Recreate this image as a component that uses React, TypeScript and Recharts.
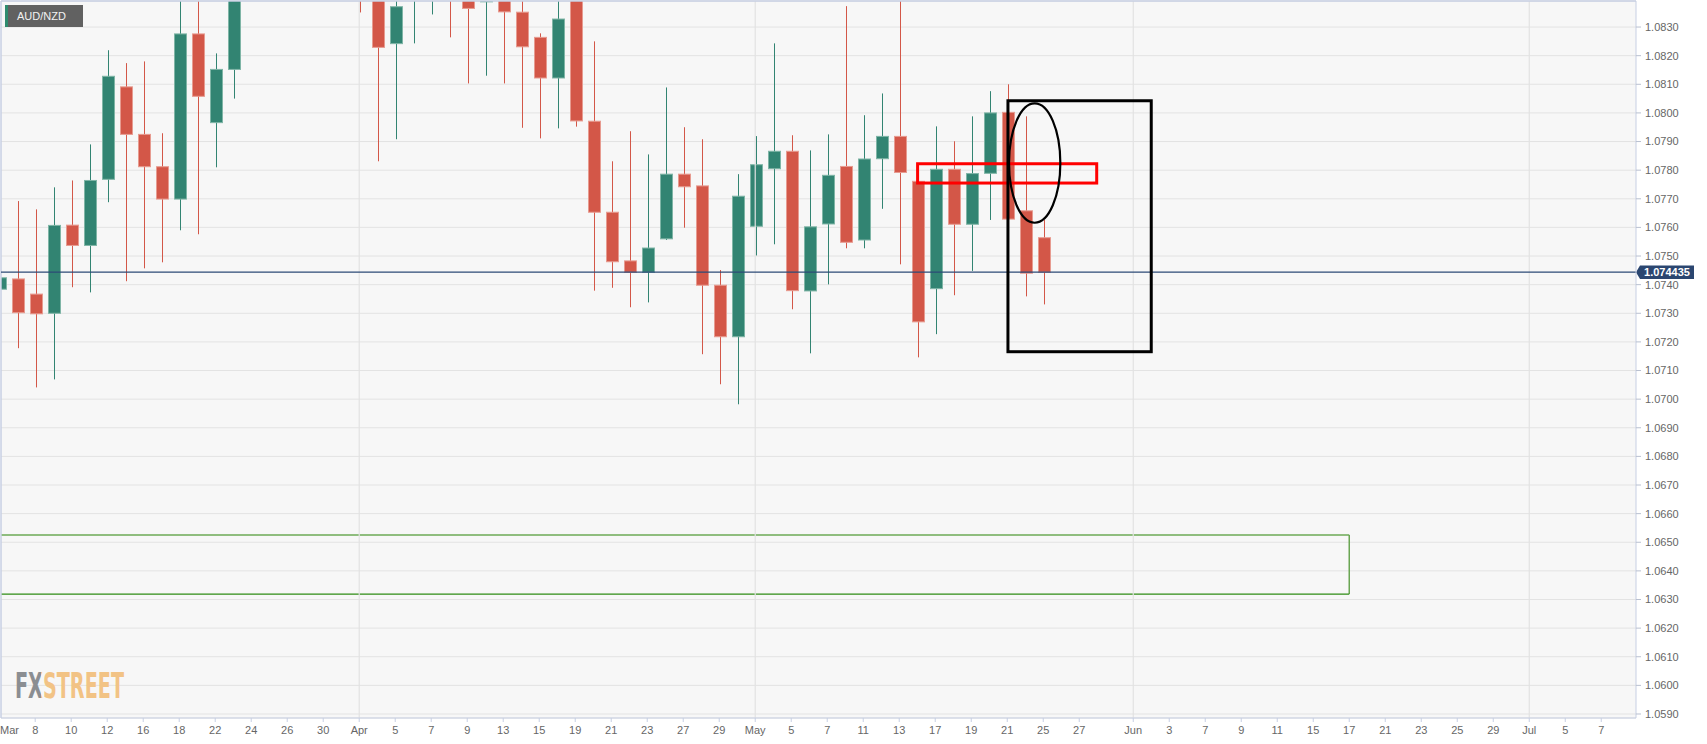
import React from 'react';
import {
  ComposedChart,
  Bar,
  XAxis,
  YAxis,
  CartesianGrid,
  ReferenceLine,
  ReferenceArea,
} from 'recharts';

// ---------- data (AUD/NZD daily, trading-day index from Mar 4, 2021) ----------
const dayIndex = [
  0, 1, 2, 3, 4, 5, 6, 7, 8, 9, 10, 11, 12, 13, 14, 15, 16, 17, 18, 19,
  20, 21, 22, 23, 24, 25, 26, 27, 28, 29, 30, 31, 32, 33, 34, 35, 36, 37, 38, 39,
  40, 41, 42, 43, 44, 45, 46, 47, 48, 49, 50, 51, 52, 53, 54, 55, 56, 57, 58,
];
const opens = [
  1.07384, 1.0742, 1.07367, 1.073, 1.07608, 1.07537, 1.07768, 1.08091, 1.07925, 1.07812,
  1.07699, 1.08276, 1.07966, 1.08152, 1.0845, 1.086, 1.087, 1.0858, 1.0866, 1.0862,
  1.0852, 1.0846, 1.08242, 1.0845, 1.085, 1.086, 1.085, 1.08388, 1.0846, 1.08352,
  1.08264, 1.08122, 1.0842, 1.07971, 1.07653, 1.07483, 1.07443, 1.0756, 1.07786, 1.07745,
  1.07398, 1.07218, 1.07604, 1.07805, 1.07866, 1.07378, 1.07612, 1.07813, 1.07556, 1.0784,
  1.07918, 1.07761, 1.07386, 1.07803, 1.07611, 1.07789, 1.08002, 1.07658, 1.07564,
];
const highs = [
  1.07559, 1.07692, 1.07663, 1.0774, 1.07764, 1.0789, 1.08219, 1.08174, 1.0818, 1.07929,
  1.0844, 1.0846, 1.08208, 1.0848, 1.0868, 1.088, 1.0885, 1.0872, 1.0878, 1.087,
  1.0864, 1.0856, 1.0846, 1.0866, 1.0868, 1.0866, 1.0856, 1.085, 1.0852, 1.0842,
  1.08278, 1.0841, 1.0848, 1.0825, 1.07831, 1.07936, 1.07855, 1.08089, 1.0795, 1.07908,
  1.07451, 1.07786, 1.07919, 1.08243, 1.07922, 1.07869, 1.07925, 1.08373, 1.07992, 1.08068,
  1.0842, 1.07765, 1.07953, 1.07901, 1.07988, 1.08076, 1.081, 1.07988, 1.07626,
];
const lows = [
  1.07077, 1.07178, 1.07041, 1.07069, 1.07391, 1.07373, 1.07688, 1.07412, 1.07457, 1.07478,
  1.0759, 1.07576, 1.0781, 1.0805, 1.0842, 1.0848, 1.0852, 1.0845, 1.085, 1.0846,
  1.08351, 1.07831, 1.07908, 1.08243, 1.08344, 1.08264, 1.08103, 1.0813, 1.08103, 1.07948,
  1.07911, 1.07946, 1.07952, 1.07379, 1.07389, 1.07321, 1.07338, 1.07556, 1.07599, 1.07157,
  1.07052, 1.06982, 1.07502, 1.07541, 1.07314, 1.0716, 1.07401, 1.07527, 1.07527, 1.07665,
  1.07471, 1.07146, 1.07227, 1.07363, 1.07448, 1.07626, 1.07626, 1.07359, 1.07331,
];
const closes = [
  1.07424, 1.07302, 1.07298, 1.07607, 1.07537, 1.07764, 1.08128, 1.07925, 1.07812, 1.07699,
  1.08276, 1.08058, 1.08152, 1.0845, 1.086, 1.087, 1.0858, 1.0866, 1.0862, 1.0852,
  1.0846, 1.08229, 1.08371, 1.0858, 1.0858, 1.0848, 1.08365, 1.0844, 1.08353, 1.08231,
  1.08122, 1.08328, 1.07972, 1.07653, 1.0748, 1.07443, 1.07528, 1.07786, 1.07742, 1.07398,
  1.07218, 1.07709, 1.07819, 1.07866, 1.07379, 1.07602, 1.07782, 1.07548, 1.07839, 1.07918,
  1.07792, 1.0727, 1.07803, 1.07611, 1.07788, 1.08, 1.07629, 1.0744, 1.074435,
];

const tickIdx = [
  0, 2, 4, 6, 8, 10, 12, 14, 16, 18, 20, 22, 24, 26, 28, 30, 32, 34, 36, 38, 40,
  42, 44, 46, 48, 50, 52, 54, 56, 58, 60, 63, 65, 67, 69, 71, 73, 75, 77, 79, 81, 83,
  85, 87, 89,
];
const tickLabels = [
  'Mar', '8', '10', '12', '16', '18', '22', '24', '26', '30', 'Apr', '5', '7', '9', '13', '15', '19', '21', '23', '27', '29',
  'May', '5', '7', '11', '13', '17', '19', '21', '25', '27', 'Jun', '3', '7', '9', '11', '15', '17', '21', '23', '25', '29',
  'Jul', '5', '7',
];
const priceTicks = [
  1.059, 1.06, 1.061, 1.062, 1.063, 1.064, 1.065, 1.066, 1.067, 1.068, 1.069, 1.07, 1.071,
  1.072, 1.073, 1.074, 1.075, 1.076, 1.077, 1.078, 1.079, 1.08, 1.081, 1.082, 1.083,
];
const monthStarts = [20, 42, 63, 85];
const lastPrice = 1.074435;
const symbol = 'AUD/NZD';
const brand = 'FXSTREET';

const X_DOMAIN: [number, number] = [0.1, 90.93];
const Y_DOMAIN: [number, number] = [1.05886, 1.08391];

// annotation regions (data space)
const greenZone = { x1: 0.1, x2: 75, y1: 1.06319, y2: 1.06525 };
const blackBox = { x1: 56.04, x2: 64.0, y1: 1.071657, y2: 1.080425 };
const ellipseBox = { x1: 56.1, x2: 58.95, y1: 1.076163, y2: 1.080335 };
const redBox = { x1: 51.02, x2: 60.97, y1: 1.07755, y2: 1.078224 };

const data = dayIndex.map((i, k) => ({
  i,
  open: opens[k],
  high: highs[k],
  low: lows[k],
  close: closes[k],
}));

const GREEN = '#328472';
const RED = '#d35748';
const FONT = '"Liberation Sans", Arial, sans-serif';
const AXIS = '#c7cfe3';

const Candle = (props: any) => {
  const { x, y, width, height, payload } = props;
  if (!payload || x == null || y == null) return null;
  const { open, close, high, low } = payload;
  const top = Math.min(y, y + height);
  const bot = Math.max(y, y + height);
  const span = high - low || 1e-9;
  const py = (v: number) => top + ((high - v) / span) * (bot - top);
  const up = close >= open;
  const color = up ? GREEN : RED;
  const edge = up ? '#7fb5a6' : '#e79b90';
  const cx = Math.round(x + width / 2) + 0.5;
  const bTop = py(Math.max(open, close));
  const bBot = py(Math.min(open, close));
  return (
    <g>
      <line x1={cx} x2={cx} y1={top} y2={bot} stroke={color} strokeWidth={1} />
      <rect
        x={cx - 6}
        y={bTop}
        width={12}
        height={Math.max(1, bBot - bTop)}
        fill={color}
        stroke={edge}
        strokeWidth={1}
      />
    </g>
  );
};

const XTick = (props: any) => {
  const { x, y, payload } = props;
  const k = tickIdx.indexOf(payload.value);
  const label = k >= 0 ? tickLabels[k] : '';
  const first = payload.value === tickIdx[0];
  return (
    <text
      x={first ? 0 : x}
      y={y}
      dy="0.71em"
      textAnchor={first ? 'start' : 'middle'}
      fill="#666"
      fontSize={11}
      fontFamily={FONT}
    >
      {label}
    </text>
  );
};

const PriceLabel = (props: any) => {
  const vb = props.viewBox || {};
  const x = (vb.x || 0) + (vb.width || 0);
  const y = vb.y || 0;
  return (
    <g>
      <path
        d={`M${x} ${y} L${x + 4} ${y - 6.6} L${x + 58} ${y - 6.6} L${x + 58} ${y + 6.7} L${x + 4} ${y + 6.7} Z`}
        fill="#2b4670"
      />
      <text
        x={x + 31}
        y={y}
        dy="0.36em"
        textAnchor="middle"
        fill="#ffffff"
        fontSize={11}
        fontWeight="bold"
        fontFamily={FONT}
      >
        {String(lastPrice)}
      </text>
    </g>
  );
};

const GreenZoneShape = (p: any) => {
  const { x, y, width, height } = p;
  return (
    <g fill="none">
      <line x1={x} x2={x + width} y1={y} y2={y} stroke="#8fbd7e" strokeWidth={2} />
      <line x1={x + width} x2={x + width} y1={y} y2={y + height} stroke="#6aa653" strokeWidth={1.5} />
      <line x1={x} x2={x + width} y1={y + height} y2={y + height} stroke="#2e8c14" strokeWidth={1.3} />
    </g>
  );
};

const EllipseShape = (p: any) => {
  const { x, y, width, height } = p;
  return (
    <ellipse
      cx={x + width / 2}
      cy={y + height / 2}
      rx={width / 2}
      ry={height / 2}
      fill="none"
      stroke="#000"
      strokeWidth={2.2}
    />
  );
};

const RectShape = (stroke: string, sw: number) => (p: any) => {
  const { x, y, width, height } = p;
  return <rect x={x} y={y} width={width} height={height} fill="none" stroke={stroke} strokeWidth={sw} />;
};

export default function App() {
  return (
    <div style={{ position: 'absolute', left: 0, top: 0, width: 1707, height: 744, background: '#fff' }}>
      <ComposedChart
        width={1707}
        height={744}
        data={data}
        margin={{ top: 1, right: 0, left: 1, bottom: 0 }}
        style={{ fontFamily: FONT }}
      >
        <CartesianGrid
          vertical={false}
          stroke="#e3e3e3"
          fill="#f7f7f7"
          fillOpacity={1}
        />
        {monthStarts.map((m) => (
          <ReferenceLine key={m} x={m} stroke="#e2e2e2" strokeWidth={1.2} ifOverflow="visible" />
        ))}
        <ReferenceLine y={Y_DOMAIN[1]} stroke={AXIS} strokeWidth={1.5} ifOverflow="visible" />
        <ReferenceLine x={X_DOMAIN[0]} stroke={AXIS} strokeWidth={1.5} ifOverflow="visible" />
        <XAxis
          dataKey="i"
          type="number"
          domain={X_DOMAIN}
          allowDataOverflow
          ticks={tickIdx}
          interval={0}
          height={26}
          tickSize={4}
          tickMargin={4}
          stroke={AXIS}
          tickLine={{ stroke: AXIS }}
          axisLine={{ stroke: AXIS }}
          tick={<XTick />}
        />
        <YAxis
          orientation="right"
          type="number"
          domain={Y_DOMAIN}
          allowDataOverflow
          ticks={priceTicks}
          interval={0}
          width={71}
          tickSize={5}
          tickMargin={4}
          tickFormatter={(v: number) => v.toFixed(4)}
          tick={{ fill: '#666', fontSize: 11, fontFamily: FONT }}
          tickLine={{ stroke: '#b9c0d0' }}
          axisLine={{ stroke: AXIS }}
        />
        <Bar
          dataKey={(d: any) => [d.low, d.high]}
          barSize={13}
          shape={<Candle />}
          isAnimationActive={false}
        />
        <ReferenceLine
          y={lastPrice}
          stroke="#2d4a76"
          strokeWidth={1.2}
          label={{ content: <PriceLabel /> } as any}
        />
        <ReferenceArea
          x1={greenZone.x1}
          x2={greenZone.x2}
          y1={greenZone.y1}
          y2={greenZone.y2}
          ifOverflow="visible"
          shape={<GreenZoneShape />}
        />
        <ReferenceArea
          x1={redBox.x1}
          x2={redBox.x2}
          y1={redBox.y1}
          y2={redBox.y2}
          ifOverflow="visible"
          shape={RectShape('#ff0000', 3) as any}
          {...({ zIndex: 1000 } as any)}
        />
        <ReferenceArea
          x1={blackBox.x1}
          x2={blackBox.x2}
          y1={blackBox.y1}
          y2={blackBox.y2}
          ifOverflow="visible"
          shape={RectShape('#000000', 3) as any}
          {...({ zIndex: 1000 } as any)}
        />
        <ReferenceArea
          x1={ellipseBox.x1}
          x2={ellipseBox.x2}
          y1={ellipseBox.y1}
          y2={ellipseBox.y2}
          ifOverflow="visible"
          shape={<EllipseShape />}
          {...({ zIndex: 1000 } as any)}
        />
      </ComposedChart>

      <div
        style={{
          position: 'absolute',
          left: 5,
          top: 5,
          width: 78,
          height: 22,
          background: '#616161',
          borderLeft: '3px solid #2e8b6e',
          color: '#f2f2f2',
          fontFamily: FONT,
          fontSize: 11,
          lineHeight: '22px',
          paddingLeft: 9,
          boxSizing: 'border-box',
        }}
      >
        {symbol}
      </div>

      <svg
        style={{ position: 'absolute', left: 0, top: 0, pointerEvents: 'none' }}
        width={200}
        height={744}
      >
        <defs>
          <linearGradient id="brandFill" gradientUnits="userSpaceOnUse" x1={15} y1={0} x2={124} y2={0}>
            <stop offset="0" stopColor="#8b8e92" />
            <stop offset="0.24" stopColor="#8b8e92" />
            <stop offset="0.24" stopColor="#f2c385" />
            <stop offset="1" stopColor="#f2c385" />
          </linearGradient>
        </defs>
        <text
          x={15}
          y={698}
          fontFamily='"DejaVu Sans Condensed", "DejaVu Sans", sans-serif'
          fontWeight="bold"
          fontSize={36}
          fill="url(#brandFill)"
          textLength={109}
          lengthAdjust="spacingAndGlyphs"
        >
          {brand}
        </text>
      </svg>
    </div>
  );
}
